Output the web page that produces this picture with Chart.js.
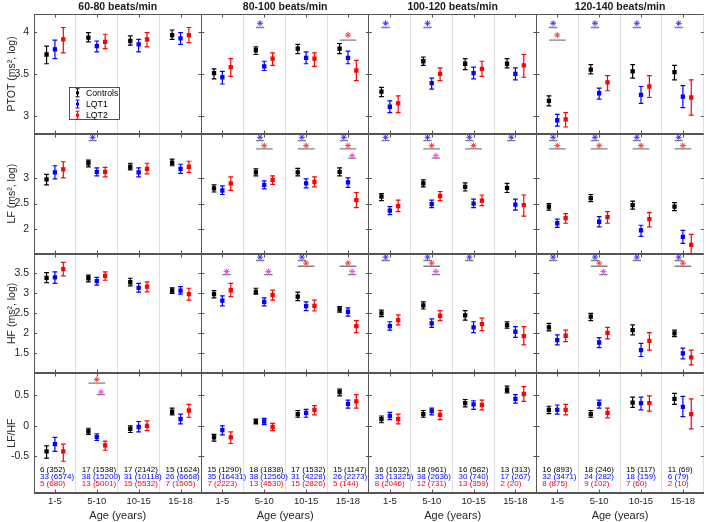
<!DOCTYPE html>
<html>
<head>
<meta charset="utf-8">
<title>HRV by heart rate band</title>
<script src="https://cdn.jsdelivr.net/npm/chart.js"></script>
<style>
  body { margin: 0; background: #fff; }
</style>
</head>
<body>
<canvas id="hrvChart" width="709" height="522"></canvas>

<script>
// --- categories / labels ---
const colTitles = ['60-80 beats/min', '80-100 beats/min', '100-120 beats/min', '120-140 beats/min'];
const ageGroups = ['1-5', '5-10', '10-15', '15-18'];
const groupNames = ['Controls', 'LQT1', 'LQT2'];
const rowTitles = ['PTOT (ms², log)', 'LF (ms², log)', 'HF (ms², log)', 'LF/HF'];

// axis ranges and tick labels per row
const rowMin = [2.79, 1.51, 1.0, -1.1];
const rowMax = [4.21, 3.885, 4.0, 0.86];
const rowTicks = [[3, 3.5, 4], [2, 2.5, 3], [1.5, 2, 2.5, 3, 3.5], [-0.5, 0, 0.5]];

// values: one entry per age group column (16 = 4 heart rate bands x 4 ages), [mean, low, high]
const ptotControls = [[3.73,3.62,3.83],[3.93,3.88,3.99],[3.89,3.84,3.95],[3.96,3.91,4.02],[3.51,3.44,3.56],[3.78,3.73,3.82],[3.80,3.74,3.85],[3.80,3.74,3.86],[3.29,3.23,3.34],[3.65,3.60,3.70],[3.62,3.55,3.68],[3.62,3.57,3.68],[3.18,3.12,3.24],[3.55,3.50,3.61],[3.53,3.45,3.61],[3.52,3.43,3.60]];
const ptotLqt1 = [[3.79,3.68,3.90],[3.83,3.76,3.89],[3.85,3.76,3.91],[3.92,3.85,3.99],[3.46,3.38,3.53],[3.59,3.54,3.65],[3.69,3.62,3.76],[3.69,3.62,3.77],[3.11,3.04,3.18],[3.39,3.32,3.45],[3.51,3.44,3.58],[3.50,3.43,3.57],[2.95,2.88,3.02],[3.27,3.20,3.33],[3.25,3.15,3.35],[3.23,3.10,3.36]];
const ptotLqt2 = [[3.91,3.75,4.05],[3.88,3.80,3.97],[3.91,3.82,3.99],[3.96,3.87,4.05],[3.58,3.47,3.68],[3.68,3.60,3.75],[3.68,3.59,3.75],[3.54,3.42,3.66],[3.15,3.04,3.24],[3.50,3.42,3.57],[3.56,3.47,3.65],[3.60,3.46,3.73],[2.96,2.87,3.04],[3.40,3.30,3.48],[3.35,3.22,3.48],[3.22,3.01,3.43]];

const lfControls = [[2.98,2.87,3.08],[3.30,3.23,3.36],[3.23,3.17,3.30],[3.31,3.25,3.38],[2.80,2.73,2.87],[3.12,3.05,3.19],[3.12,3.05,3.20],[3.13,3.05,3.21],[2.64,2.56,2.70],[2.90,2.83,2.97],[2.83,2.75,2.91],[2.81,2.72,2.90],[2.44,2.37,2.50],[2.61,2.54,2.68],[2.47,2.39,2.55],[2.44,2.36,2.52]];
const lfLqt1 = [[3.12,2.99,3.25],[3.13,3.05,3.21],[3.12,3.03,3.21],[3.19,3.10,3.28],[2.76,2.68,2.85],[2.87,2.79,2.95],[2.90,2.81,2.99],[2.92,2.82,3.01],[2.36,2.28,2.44],[2.49,2.42,2.57],[2.50,2.42,2.59],[2.48,2.37,2.59],[2.11,2.03,2.19],[2.14,2.04,2.24],[1.97,1.85,2.07],[1.84,1.71,1.97]];
const lfLqt2 = [[3.18,3.01,3.33],[3.13,3.03,3.22],[3.19,3.09,3.30],[3.23,3.12,3.34],[2.90,2.76,3.03],[2.97,2.88,3.05],[2.93,2.83,3.03],[2.57,2.42,2.72],[2.45,2.34,2.57],[2.65,2.56,2.74],[2.56,2.46,2.67],[2.47,2.25,2.67],[2.21,2.11,2.30],[2.23,2.11,2.34],[2.19,2.04,2.32],[1.68,1.50,1.89]];

const hfControls = [[3.39,3.27,3.52],[3.38,3.29,3.46],[3.28,3.19,3.38],[3.07,3.00,3.14],[2.98,2.89,3.07],[3.04,2.98,3.13],[2.92,2.82,3.03],[2.60,2.53,2.67],[2.50,2.42,2.58],[2.70,2.61,2.79],[2.45,2.33,2.57],[2.21,2.13,2.29],[2.15,2.06,2.25],[2.42,2.32,2.50],[2.08,1.96,2.21],[2.00,1.92,2.08]];
const hfLqt1 = [[3.40,3.25,3.54],[3.31,3.21,3.40],[3.14,3.03,3.25],[3.07,2.98,3.17],[2.82,2.69,2.94],[2.79,2.69,2.89],[2.68,2.57,2.79],[2.54,2.43,2.64],[2.18,2.08,2.29],[2.25,2.15,2.36],[2.15,2.02,2.29],[2.04,1.90,2.17],[1.83,1.71,1.96],[1.77,1.64,1.89],[1.58,1.42,1.75],[1.50,1.36,1.63]];
const hfLqt2 = [[3.61,3.44,3.78],[3.44,3.33,3.54],[3.17,3.04,3.29],[2.98,2.83,3.13],[3.08,2.92,3.25],[2.96,2.83,3.08],[2.69,2.56,2.83],[2.18,2.02,2.32],[2.33,2.21,2.46],[2.44,2.32,2.57],[2.23,2.07,2.38],[1.93,1.71,2.17],[1.94,1.79,2.08],[2.01,1.86,2.15],[1.81,1.58,2.02],[1.40,1.21,1.58]];

const ratioControls = [[-0.42,-0.53,-0.33],[-0.09,-0.14,-0.04],[-0.05,-0.11,0.00],[0.23,0.18,0.29],[-0.19,-0.25,-0.14],[0.07,0.03,0.11],[0.19,0.14,0.25],[0.55,0.49,0.60],[0.11,0.05,0.16],[0.19,0.14,0.25],[0.37,0.31,0.43],[0.59,0.54,0.65],[0.26,0.20,0.32],[0.19,0.14,0.25],[0.38,0.30,0.47],[0.44,0.35,0.53]];
const ratioLqt1 = [[-0.30,-0.42,-0.19],[-0.18,-0.24,-0.13],[-0.02,-0.10,0.07],[0.11,0.03,0.19],[-0.07,-0.15,0.00],[0.07,0.02,0.12],[0.21,0.14,0.27],[0.36,0.29,0.42],[0.16,0.10,0.22],[0.24,0.18,0.29],[0.35,0.27,0.41],[0.44,0.37,0.51],[0.26,0.19,0.34],[0.36,0.29,0.42],[0.37,0.26,0.47],[0.31,0.15,0.48]];
const ratioLqt2 = [[-0.42,-0.58,-0.30],[-0.32,-0.40,-0.25],[0.00,-0.08,0.08],[0.25,0.14,0.35],[-0.19,-0.29,-0.10],[-0.02,-0.08,0.04],[0.26,0.18,0.33],[0.40,0.29,0.51],[0.11,0.03,0.19],[0.18,0.10,0.25],[0.34,0.26,0.42],[0.52,0.40,0.64],[0.26,0.18,0.35],[0.21,0.13,0.29],[0.37,0.24,0.49],[0.19,-0.05,0.44]];

// significance marks: [column 1..16, comparison] b = Controls vs LQT1, r = Controls vs LQT2, m = LQT1 vs LQT2
const sigPtot = [[6,'b'],[8,'r'],[9,'b'],[10,'b'],[13,'b'],[13,'r'],[14,'b'],[15,'b'],[16,'b']];
const sigLf = [[2,'b'],[6,'b'],[6,'r'],[7,'b'],[7,'r'],[8,'b'],[8,'r'],[8,'m'],[9,'b'],[10,'b'],[10,'r'],[10,'m'],[11,'b'],[11,'r'],[12,'b'],[13,'b'],[13,'r'],[14,'b'],[14,'r'],[15,'b'],[15,'r'],[16,'b'],[16,'r']];
const sigHf = [[5,'m'],[6,'b'],[6,'m'],[7,'b'],[7,'r'],[8,'r'],[8,'m'],[9,'b'],[10,'b'],[10,'r'],[10,'m'],[11,'b'],[13,'b'],[14,'b'],[14,'r'],[14,'m'],[15,'b'],[16,'b'],[16,'r']];
const sigRatio = [[2,'r'],[2,'m']];
// heights of the bars and stars, per row, in the order b, r, m
const sigBarLevel = [[4.05, 3.90, null], [3.747, 3.585, 3.40], [3.825, 3.68, 3.47], [null, 0.70, 0.51]];
const sigStarLevel = [[4.10, 3.96, null], [3.815, 3.65, 3.45], [3.91, 3.76, 3.55], [null, 0.757, 0.553]];

// subjects (recordings) per column
const countsControls = ['6 (352)','17 (1538)','17 (2142)','15 (1624)','15 (1290)','18 (1838)','17 (1532)','15 (1147)','16 (1632)','18 (961)','16 (582)','13 (313)','16 (893)','18 (246)','15 (117)','11 (69)'];
const countsLqt1 = ['33 (6574)','38 (15200)','31 (10118)','26 (6668)','35 (16431)','38 (12560)','31 (4228)','26 (2273)','35 (13225)','38 (2636)','30 (740)','17 (267)','32 (3471)','24 (282)','18 (159)','6 (79)'];
const countsLqt2 = ['5 (680)','13 (5001)','15 (5532)','7 (1505)','7 (2223)','13 (4530)','15 (2826)','5 (144)','8 (2046)','12 (731)','13 (359)','2 (20)','8 (875)','9 (102)','7 (60)','2 (10)'];

// --- styles ---
const FONT = '"Liberation Sans", Arial, Helvetica, sans-serif';
const colors = ['#000000', '#0000ff', '#ff0000'];
const groupOffset = [-0.2, 0, 0.2];
const sigColors = { b: '#3c3cff', r: '#ff3c3c', m: '#ff3cff' };
const sigOrder = { b: 0, r: 1, m: 2 };
const sigFrom = { b: -0.2, r: -0.2, m: 0 };
const sigTo = { b: 0, r: 0.2, m: 0.2 };
const axisColor = '#555555';

const series = [
  [ptotControls, ptotLqt1, ptotLqt2],
  [lfControls, lfLqt1, lfLqt2],
  [hfControls, hfLqt1, hfLqt2],
  [ratioControls, ratioLqt1, ratioLqt2]
];
const sigs = [sigPtot, sigLf, sigHf, sigRatio];
const counts = [countsControls, countsLqt1, countsLqt2];

Chart.defaults.font.family = FONT;
Chart.defaults.color = '#262626';

// error bar: low cap, mean marker, high cap, then a gap so the line breaks
function errorBarPoints(values, offset) {
  let pts = [];
  for (let i = 0; i < values.length; i++) {
    let x = i + 1 + offset;
    pts.push({ x: x, y: values[i][1], kind: 'cap' });
    pts.push({ x: x, y: values[i][0], kind: 'mean' });
    pts.push({ x: x, y: values[i][2], kind: 'cap' });
    pts.push({ x: x, y: null });
  }
  return pts;
}

function sigBarPoints(r) {
  let pts = [];
  sigs[r].forEach(function (s) {
    let level = sigBarLevel[r][sigOrder[s[1]]];
    pts.push({ x: s[0] + sigFrom[s[1]], y: level });
    pts.push({ x: s[0] + sigTo[s[1]], y: level });
    pts.push({ x: s[0], y: null });
  });
  return pts;
}

function sigStarPoints(r) {
  return sigs[r].map(function (s) {
    return { x: s[0] + (sigFrom[s[1]] + sigTo[s[1]]) / 2, y: sigStarLevel[r][sigOrder[s[1]]], t: s[1] };
  });
}

let datasets = [];
for (let r = 0; r < 4; r++) {
  datasets.push({
    label: 'sigstars' + r,
    data: sigStarPoints(r),
    yAxisID: 'y' + r,
    pointStyle: 'star',
    pointRadius: 3,
    pointBorderWidth: 1,
    pointBorderColor: ctx => sigColors[ctx.raw.t],
    pointBackgroundColor: ctx => sigColors[ctx.raw.t]
  });
  datasets.push({
    label: 'sigbars' + r,
    data: sigBarPoints(r),
    yAxisID: 'y' + r,
    showLine: true,
    spanGaps: false,
    borderColor: '#808080',
    borderWidth: 1.3,
    pointRadius: 0
  });
  for (let g = 0; g < 3; g++) {
    datasets.push({
      label: groupNames[g],
      data: errorBarPoints(series[r][g], groupOffset[g]),
      yAxisID: 'y' + r,
      showLine: true,
      spanGaps: false,
      borderColor: colors[g],
      borderWidth: 1.2,
      pointStyle: ctx => (ctx.raw && ctx.raw.kind === 'mean') ? 'rect' : 'line',
      pointRadius: ctx => (ctx.raw && ctx.raw.kind === 'mean') ? 2.2 : 2.4,
      pointBorderWidth: 1.2,
      pointBorderColor: colors[g],
      pointBackgroundColor: colors[g]
    });
  }
}

let scales = {
  x: {
    type: 'linear',
    position: 'bottom',
    min: 0.5,
    max: 16.5,
    afterBuildTicks: s => { s.ticks = countsControls.map((c, i) => ({ value: i + 1 })); },
    afterFit: s => { s.height = 29; },
    ticks: {
      autoSkip: false,
      maxRotation: 0,
      padding: 3,
      font: { size: 9.5 },
      callback: (v, i) => ageGroups[i % 4]
    },
    grid: {
      offset: true,
      drawTicks: false,
      lineWidth: 1,
      color: ctx => (ctx.index % 4 === 0) ? axisColor : '#dedede'
    },
    border: { display: true, color: axisColor }
  }
};
for (let r = 0; r < 4; r++) {
  scales['y' + r] = {
    type: 'linear',
    axis: 'y',
    position: 'left',
    stack: 'rows',
    stackWeight: 1,
    weight: 4 - r,
    min: rowMin[r],
    max: rowMax[r],
    afterBuildTicks: s => { s.ticks = rowTicks[r].map(v => ({ value: v })); },
    afterFit: s => { s.width = 34; },
    ticks: { autoSkip: false, padding: 5, font: { size: 10.5 }, callback: v => String(v) },
    grid: { display: false, drawTicks: false },
    border: { display: true, color: axisColor },
    title: { display: true, text: rowTitles[r], font: { size: 10.5 }, padding: { top: 6, bottom: 0 } }
  };
}

// frames, inner tick marks, column titles, counts and legend
const panelDecor = {
  id: 'panelDecor',
  beforeDatasetsDraw(chart) {
    const ctx = chart.ctx;
    const area = chart.chartArea;
    const xs = chart.scales.x;
    ctx.save();
    ctx.strokeStyle = axisColor;
    ctx.lineWidth = 1;
    ctx.beginPath();
    for (let r = 0; r < 4; r++) {
      const ys = chart.scales['y' + r];
      const top = Math.round(ys.top) + 0.5;
      const bottom = Math.round(ys.bottom) - 0.5;
      ctx.moveTo(area.left, top);
      ctx.lineTo(area.right, top);
      ctx.moveTo(area.left, bottom);
      ctx.lineTo(area.right, bottom);
      for (let v = 1; v <= 16; v++) {
        const px = Math.round(xs.getPixelForValue(v)) + 0.5;
        ctx.moveTo(px, top);
        ctx.lineTo(px, top + 3);
        ctx.moveTo(px, bottom);
        ctx.lineTo(px, bottom - 3);
      }
      rowTicks[r].forEach(function (t) {
        const py = Math.round(ys.getPixelForValue(t)) + 0.5;
        for (let c = 0; c <= 4; c++) {
          const bx = xs.getPixelForValue(c * 4 + 0.5);
          ctx.moveTo(bx - (c > 0 ? 3 : 0), py);
          ctx.lineTo(bx + (c < 4 ? 3 : 0), py);
        }
      });
    }
    ctx.stroke();
    ctx.restore();
  },
  afterDraw(chart) {
    const ctx = chart.ctx;
    const area = chart.chartArea;
    const xs = chart.scales.x;
    ctx.save();
    ctx.textAlign = 'center';
    ctx.textBaseline = 'middle';
    for (let c = 0; c < 4; c++) {
      const cx = xs.getPixelForValue(c * 4 + 2.5);
      ctx.fillStyle = '#1a1a1a';
      ctx.font = 'bold 10.5px ' + FONT;
      ctx.fillText(colTitles[c], cx, area.top - 7);
      ctx.fillStyle = '#262626';
      ctx.font = '11px ' + FONT;
      ctx.fillText('Age (years)', cx, area.bottom + 23);
    }
    // counts under each column, inside the LF/HF row
    ctx.textAlign = 'left';
    ctx.font = '8px ' + FONT;
    for (let i = 0; i < 16; i++) {
      const tx = xs.getPixelForValue(i + 1) - 15;
      for (let g = 0; g < 3; g++) {
        ctx.fillStyle = colors[g];
        ctx.fillText(counts[g][i], tx, area.bottom - 23.5 + g * 7.3);
      }
    }
    // legend box in the first panel
    const lx = area.left + 35;
    const ly = area.top + 73;
    ctx.fillStyle = '#ffffff';
    ctx.fillRect(lx, ly, 50, 32);
    ctx.strokeStyle = '#262626';
    ctx.lineWidth = 0.8;
    ctx.strokeRect(lx + 0.5, ly + 0.5, 50, 32);
    ctx.font = '8.7px ' + FONT;
    for (let g = 0; g < 3; g++) {
      const cy = ly + 5.8 + g * 11.2;
      const ix = lx + 8.5;
      ctx.strokeStyle = colors[g];
      ctx.fillStyle = colors[g];
      ctx.lineWidth = 1;
      ctx.beginPath();
      ctx.moveTo(ix, cy - 4);
      ctx.lineTo(ix, cy + 4);
      ctx.moveTo(ix - 2, cy - 4);
      ctx.lineTo(ix + 2, cy - 4);
      ctx.moveTo(ix - 2, cy + 4);
      ctx.lineTo(ix + 2, cy + 4);
      ctx.stroke();
      ctx.fillRect(ix - 1.5, cy - 1.5, 3, 3);
      ctx.fillStyle = '#000000';
      ctx.fillText(groupNames[g], lx + 17, cy + 0.5);
    }
    ctx.restore();
  }
};

const config = {
  type: 'scatter',
  data: { datasets: datasets },
  options: {
    responsive: false,
    maintainAspectRatio: false,
    animation: false,
    events: [],
    layout: { padding: { top: 14, right: 3, bottom: 0, left: 0 } },
    plugins: { legend: { display: false }, tooltip: { enabled: false } },
    scales: scales
  },
  plugins: [panelDecor]
};

let myChart = new Chart(document.getElementById('hrvChart'), config);
</script>
</body>
</html>
